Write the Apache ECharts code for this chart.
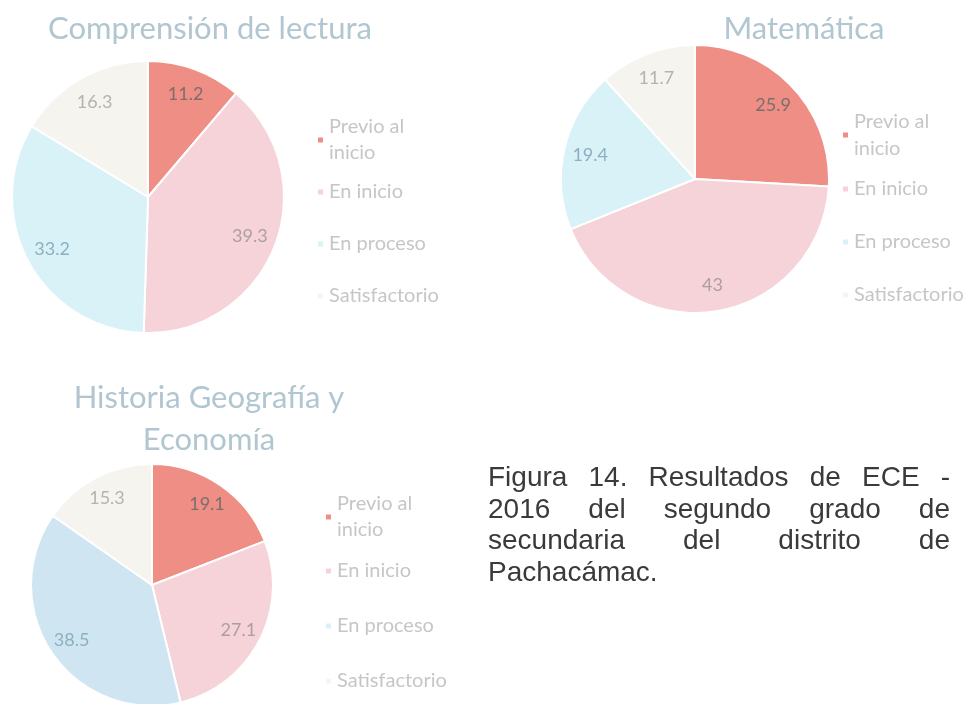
<!DOCTYPE html>
<html>
<head>
<meta charset="utf-8">
<script src="https://cdn.jsdelivr.net/npm/echarts@6/dist/echarts.min.js"></script>
<style>
  html, body { margin: 0; padding: 0; background: #fff; }
  #chart { width: 968px; height: 704px; }
  #caption {
    position: absolute; left: 488px; top: 461px; width: 462px;
    font-family: "Liberation Sans", Arial, sans-serif; font-size: 28px;
    line-height: 31.5px; color: #3a3a3a; text-align: justify;
  }
</style>
</head>
<body>
<div id="chart"></div>
<div id="caption">Figura 14. Resultados de ECE - 2016 del segundo grado de secundaria del distrito de Pachacámac.</div>
<script>
// datos
const categories = ['Previo al inicio', 'En inicio', 'En proceso', 'Satisfactorio']
const titles = ['Comprensión de lectura', 'Matemática', 'Historia Geografía y\nEconomía']
const lectura = [11.2, 39.3, 33.2, 16.3]
const matematica = [25.9, 43, 19.4, 11.7]
const historia = [19.1, 27.1, 38.5, 15.3]

// colores de las porciones y de las etiquetas
const sliceColors = ['#ef8e84', '#f6d3d9', '#d8f2f7', '#f5f4ef']
const sliceColorsHist = ['#ef8e84', '#f6d3d9', '#cfe6f2', '#f5f4ef']
const labelColors = ['#7b6e6d', '#ab9fa2', '#8eafc1', '#b5b3ad']

// disposición de cada gráfico
const panels = [
  { values: lectura, colors: sliceColors, center: [148, 197], r: 136,
    title: [205, 3], legendX: 316, legendA: 140, legendB: 192, line: 26, pitch: 52 },
  { values: matematica, colors: sliceColors, center: [695, 179], r: 134,
    title: [799, 3], legendX: 841, legendA: 135, legendB: 189, line: 27, pitch: 53 },
  { values: historia, colors: sliceColorsHist, center: [152, 585], r: 121,
    title: [204, 372], legendX: 324, legendA: 517, legendB: 571, line: 26, pitch: 55 }
]

const FONT = 'Lato'
const chart = echarts.init(document.getElementById('chart'))

const title = []
const legend = []
const series = []

panels.forEach((p, k) => {
  title.push({
    text: titles[k],
    left: p.title[0],
    top: p.title[1],
    textAlign: 'center',
    textStyle: { fontFamily: FONT, fontSize: 31, fontWeight: 'normal', color: '#b1c6d0', lineHeight: 42 }
  })
  const data = categories.map((c, i) => ({
    name: c,
    value: p.values[i],
    itemStyle: { color: p.colors[i] },
    label: { color: labelColors[i] }
  }))
  // porciones
  series.push({
    type: 'pie',
    center: p.center,
    radius: [0, p.r],
    startAngle: 90,
    clockwise: true,
    animation: false,
    silent: true,
    itemStyle: { borderColor: '#fff', borderWidth: 2 },
    label: { show: false },
    labelLine: { show: false },
    data: data
  })
  // etiquetas de valores
  series.push({
    type: 'pie',
    center: p.center,
    radius: [p.r * 0.56, p.r],
    startAngle: 90,
    clockwise: true,
    animation: false,
    silent: true,
    itemStyle: { color: 'transparent' },
    label: { show: true, position: 'inside', fontFamily: FONT, fontSize: 18, formatter: '{c}' },
    labelLine: { show: false },
    data: data.map(d => ({ name: d.name, value: d.value, label: d.label }))
  })
  const legendText = { fontFamily: FONT, fontSize: 20, color: '#c6c6c6', lineHeight: p.line }
  legend.push({
    data: [categories[0]],
    orient: 'vertical',
    left: p.legendX,
    top: p.legendA - p.line * 1.5,
    padding: 0,
    icon: 'rect',
    itemWidth: 7,
    itemHeight: 7,
    selectedMode: false,
    formatter: () => 'Previo al\ninicio',
    textStyle: Object.assign({ padding: [p.line, 0, 0, 0] }, legendText)
  })
  legend.push({
    data: categories.slice(1),
    orient: 'vertical',
    left: p.legendX,
    top: p.legendB - p.line / 2,
    padding: 0,
    icon: 'rect',
    itemWidth: 7,
    itemHeight: 7,
    itemGap: p.pitch - p.line,
    selectedMode: false,
    textStyle: legendText
  })
})

chart.setOption({
  backgroundColor: '#fff',
  title: title,
  legend: legend,
  series: series
})
</script>
</body>
</html>
